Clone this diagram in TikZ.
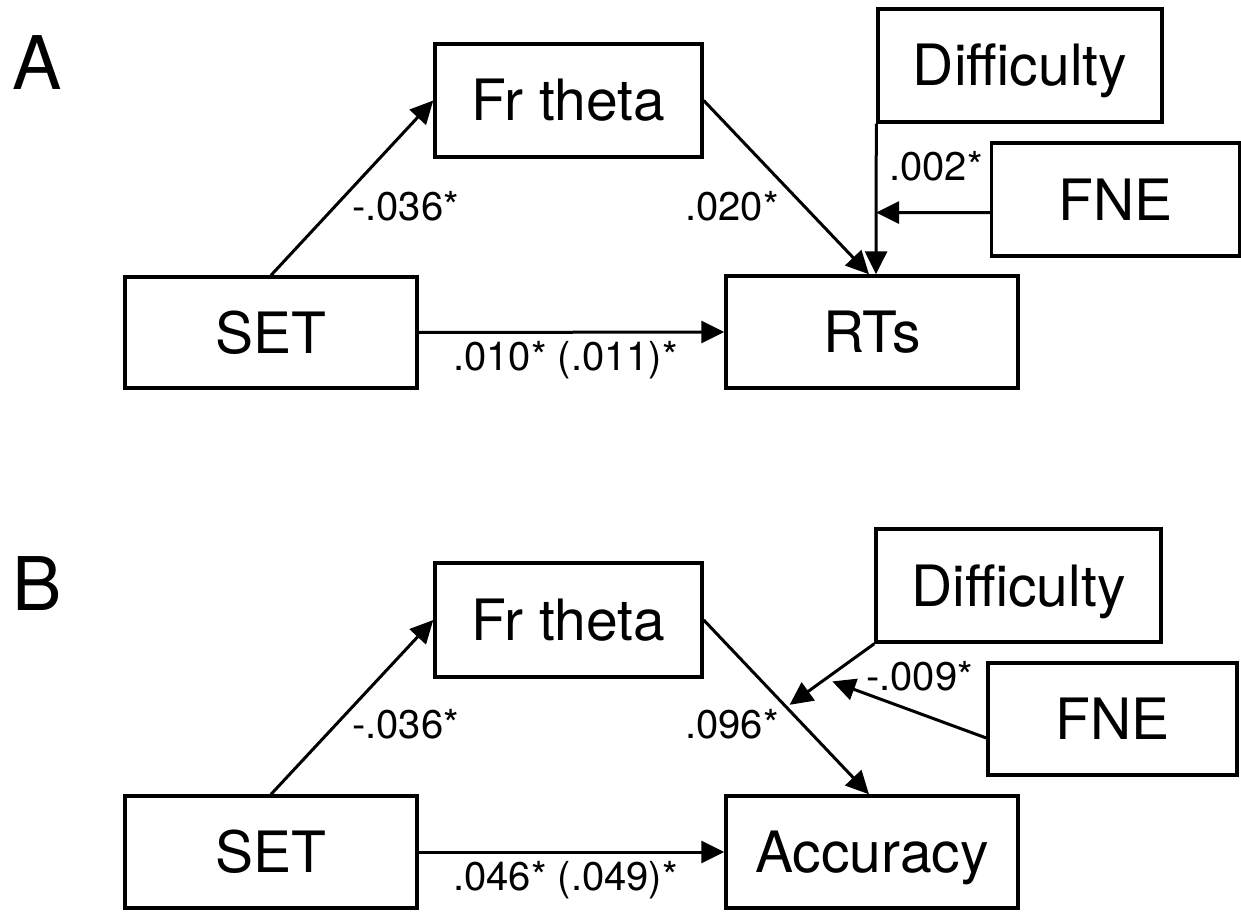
\documentclass[tikz,border=0pt]{standalone}
\usepackage{fontspec}
\setmainfont{TeX Gyre Heros}
\usetikzlibrary{arrows.meta,calc}

\begin{document}
\begin{tikzpicture}[x=1pt,y=-1pt,
  box/.style={draw, line width=3.4pt, inner sep=0pt,
    font=\fontsize{57}{60}\selectfont, text height=41pt, text depth=0pt},
  link/.style={line width=3pt, -{Triangle[length=23pt,width=22pt]}},
  coef/.style={font=\fontsize{40}{44}\selectfont, inner sep=0pt, anchor=base west},
  panel/.style={font=\fontsize{74}{80}\selectfont, inner sep=0pt, anchor=base west}]

\path[use as bounding box] (0,0) rectangle (1241,912);

% ---------- Panel A: reaction times ----------
\node[panel] (pA) at (12,90) {A};
\node[box, minimum width=267pt, minimum height=113pt] (frA)   at (568.5,100.5) {Fr theta};
\node[box, minimum width=284pt, minimum height=113pt] (diffA) at (1020,65.5)   {Difficulty};
\node[box, minimum width=248pt, minimum height=113pt] (fneA)  at (1115.5,199.5) {FNE};
\node[box, minimum width=292pt, minimum height=111pt] (setA)  at (271,332.5)   {SET};
\node[box, minimum width=292pt, minimum height=112pt] (rtsA)  at (872,332)     {RTs};

\draw[link] (setA.north) -- (frA.west);
\draw[link] (frA.east) -- ([xshift=-3pt]rtsA.north);
\draw[link] (diffA.south west) -- ([xshift=4pt]rtsA.north);
\coordinate (jA) at ($(diffA.south west)!0.59!([xshift=4pt]rtsA.north)$);
\draw[link] ([yshift=-13pt]fneA.west) -- (jA);
\draw[link] (setA.east) -- (rtsA.west);

\node[coef] (cA1) at (352,220) {-.036*};
\node[coef] (cA2) at (685,220) {.020*};
\node[coef] (cA3) at (889,180) {.002*};
\node[coef] (cA4) at (453,370) {.010* (.011)*};

% ---------- Panel B: accuracy ----------
\node[panel] (pB) at (12,610) {B};
\node[box, minimum width=267pt, minimum height=114pt] (frB)   at (568.5,620)   {Fr theta};
\node[box, minimum width=285pt, minimum height=113pt] (diffB) at (1018.5,585.5) {Difficulty};
\node[box, minimum width=249pt, minimum height=112pt] (fneB)  at (1112.5,719)  {FNE};
\node[box, minimum width=292pt, minimum height=112pt] (setB)  at (271,852)     {SET};
\node[box, minimum width=292pt, minimum height=112pt] (accB)  at (872,852)     {Accuracy};

\draw[link] (setB.north) -- (frB.west);
\draw[link] (frB.east) -- ([xshift=-3pt]accB.north);
\coordinate (jB) at ($(frB.east)!0.5!([xshift=-3pt]accB.north)$);
\draw[link, shorten >=4pt] (diffB.south west) -- (jB);
\coordinate (jD) at ($(diffB.south west)!0.5!(jB) + (2,6)$);
\draw[link] ([yshift=-19pt]fneB.west) -- (jD);
\draw[link] (setB.east) -- (accB.west);

\node[coef] (cB1) at (352,738) {-.036*};
\node[coef] (cB2) at (685,738) {.096*};
\node[coef] (cB3) at (866,690) {-.009*};
\node[coef] (cB4) at (453,890) {.046* (.049)*};
\end{tikzpicture}
\end{document}
